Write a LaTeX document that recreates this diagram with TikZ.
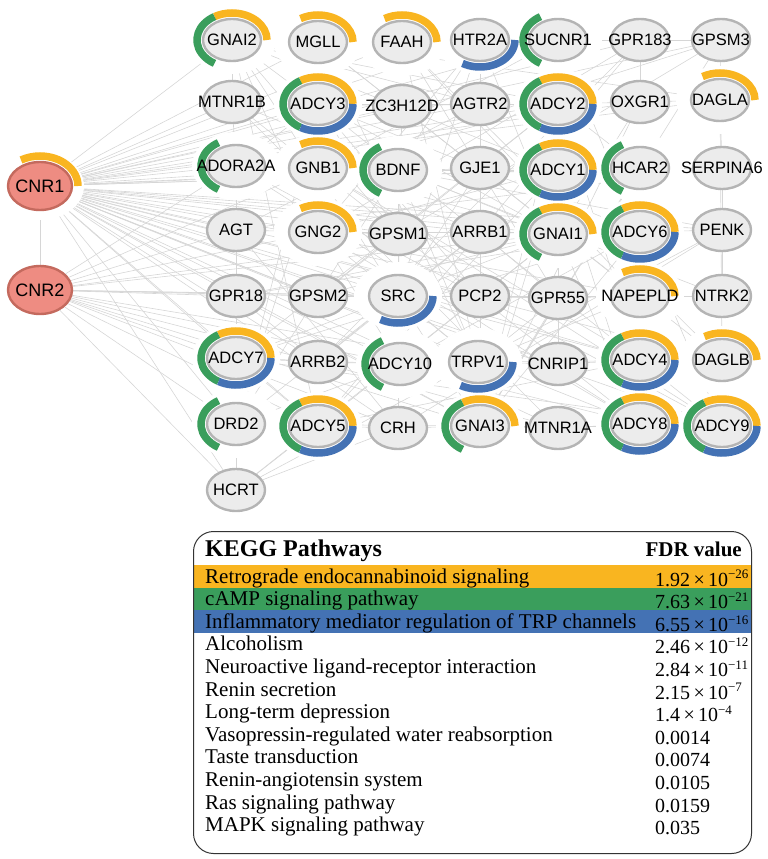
\documentclass[tikz,border=0pt]{standalone}
\usepackage{fontspec}
\setmainfont{Liberation Serif}
\newfontfamily\gsans{Liberation Sans}
\usetikzlibrary{shapes.geometric}
\pgfdeclarelayer{bg}\pgfdeclarelayer{mid}
\pgfsetlayers{bg,mid,main}
\definecolor{ko}{HTML}{F9B520}
\definecolor{kg}{HTML}{3A9E5C}
\definecolor{kb}{HTML}{4472B4}
\definecolor{nf}{HTML}{ECECEC}
\definecolor{nd}{HTML}{B4B4B4}
\definecolor{cf}{HTML}{EE8C82}
\definecolor{cd}{HTML}{C46A5E}
\newcommand\sci[2]{#1\,×\,10{\fontsize{13}{13}\selectfont\raisebox{0.55em}{−#2}}}
\tikzset{
 gene/.style={ellipse,draw=nd,fill=nf,line width=2.4pt,minimum width=58pt,minimum height=42pt,inner sep=0pt,label={[font=\gsans\fontsize{16.5}{16.5}\selectfont,inner sep=0pt]center:#1}},
 cnr/.style={ellipse,draw=cd,fill=cf,line width=2.4pt,minimum width=64pt,minimum height=48pt,inner sep=0pt,label={[font=\gsans\fontsize{18}{18}\selectfont,inner sep=0pt]center:#1}},
 edge/.style={draw=black!16,line width=0.6pt},
 arcw/.style={line width=7.5pt},
 row/.style={anchor=base west,inner sep=0pt,font=\fontsize{21}{21}\selectfont},
 val/.style={anchor=base west,inner sep=0pt,font=\fontsize{20}{20}\selectfont},
}
\begin{document}
\begin{tikzpicture}[x=1pt,y=-1pt]
\useasboundingbox (0,0) rectangle (768,859);
\node[cnr=CNR1] (CNR1) at (40,186) {};
\node[cnr=CNR2] (CNR2) at (40,290) {};
\foreach \n/\x/\y in {GNAI2/232/40,MGLL/318/42,FAAH/402/42,HTR2A/480/40,SUCNR1/558/40,GPR183/640/40,GPSM3/721/40,
 MTNR1B/232/102,ADCY3/318/104,ZC3H12D/402/106,AGTR2/480/104,ADCY2/558/104,OXGR1/640/102,DAGLA/720/100,
 ADORA2A/236/166,GNB1/318/168,BDNF/398/170,GJE1/480/168,ADCY1/558/170,HCAR2/640/168,SERPINA6/722/168,
 AGT/236/230,GNG2/318/232,GPSM1/398/234,ARRB1/480/232,GNAI1/558/234,ADCY6/640/232,PENK/722/230,
 GPR18/236/296,GPSM2/318/296,SRC/398/296,PCP2/480/296,GPR55/558/298,NAPEPLD/640/296,NTRK2/722/296,
 ADCY7/236/358,ARRB2/318/362,ADCY10/400/364,TRPV1/478/362,CNRIP1/558/364,ADCY4/640/360,DAGLB/722/360,
 DRD2/236/424,ADCY5/318/426,CRH/398/428,GNAI3/480/426,MTNR1A/558/428,ADCY8/640/424,ADCY9/722/426,
 HCRT/236/490}
 \node[gene=\n] (\n) at (\x,\y) {};
\begin{pgfonlayer}{bg}
\foreach \a in {GNAI2,MGLL,FAAH,HTR2A,SUCNR1,GPR183,GPSM3,MTNR1B,ADCY3,ZC3H12D,AGTR2,ADCY2,OXGR1,DAGLA,ADORA2A,GNB1,BDNF,GJE1,ADCY1,HCAR2,AGT,GNG2,GPSM1,ARRB1,GNAI1,ADCY6,PENK,GPR18,GPSM2,SRC,PCP2,GPR55,NAPEPLD,ADCY7,ARRB2,ADCY10,TRPV1,CNRIP1,ADCY4,DAGLB,DRD2,ADCY5,CRH,GNAI3,MTNR1A,ADCY8,ADCY9,HCRT,CNR2}
 \draw[edge] (CNR1) -- (\a);
\foreach \a in {ADORA2A,AGT,GPR18,ADCY7,DRD2,GPSM2,SRC,ARRB2,TRPV1,GPR55,GNAI1,ADCY10,CRH,GNAI3,ADCY5,ARRB1,GNB1,GNG2,HCRT}
 \draw[edge] (CNR2) -- (\a);
\foreach \a/\b in {GNAI2/MTNR1B,MTNR1B/ADORA2A,ADORA2A/AGT,AGT/GPR18,GPR18/ADCY7,ADCY7/DRD2,DRD2/HCRT,
 SERPINA6/PENK,PENK/NTRK2,GPSM3/DAGLA,GPR183/OXGR1,DAGLA/SERPINA6,
 GNAI2/MGLL,MGLL/FAAH,FAAH/HTR2A,HTR2A/SUCNR1,SUCNR1/GPR183,GPR183/GPSM3,
 ADCY3/ZC3H12D,ZC3H12D/AGTR2,AGTR2/ADCY2,ADCY2/OXGR1,OXGR1/DAGLA,
 GNB1/BDNF,GJE1/ADCY1,ADCY1/HCAR2,HCAR2/SERPINA6,GNG2/GPSM1,ARRB1/GNAI1,GNAI1/ADCY6,ADCY6/PENK,
 GPSM2/SRC,SRC/PCP2,PCP2/GPR55,GPR55/NAPEPLD,NAPEPLD/NTRK2,
 ADCY7/ARRB2,ARRB2/ADCY10,ADCY10/TRPV1,TRPV1/CNRIP1,CNRIP1/ADCY4,ADCY4/DAGLB,
 DRD2/ADCY5,ADCY5/CRH,CRH/GNAI3,GNAI3/MTNR1A,MTNR1A/ADCY8,ADCY8/ADCY9,
 GNAI2/ADCY3,GNAI2/ADCY2,GNAI2/ADCY1,GNAI2/ADCY5,GNAI2/GNG2,GNAI2/HTR2A,GNAI2/AGTR2,GNAI2/SRC,
 GNAI1/ADCY3,GNAI1/ADCY5,GNAI1/ADCY7,GNAI1/ADCY8,GNAI1/GNB1,GNAI1/MTNR1B,GNAI1/HTR2A,GNAI1/SUCNR1,GNAI1/GPR18,
 GNAI3/ADCY1,GNAI3/ADCY2,GNAI3/ADCY6,GNAI3/ADCY9,GNAI3/MTNR1A,GNAI3/DRD2,GNAI3/GPR55,GNAI3/HCAR2,GNAI3/OXGR1,
 GNB1/ADCY2,GNB1/ADCY4,GNB1/ADCY9,GNB1/DRD2,GNB1/ARRB1,GNB1/GPSM3,GNB1/SUCNR1,GNB1/ADORA2A,
 GNG2/ADCY1,GNG2/ADCY6,GNG2/ADCY8,GNG2/GPR183,GNG2/HTR2A,GNG2/AGT,GNG2/TRPV1,GNG2/ADCY10,
 ADCY3/ADCY2,ADCY3/ADCY6,ADCY3/ADCY9,ADCY3/ADORA2A,ADCY3/DRD2,ADCY3/GPSM1,ADCY3/PCP2,
 ADCY2/ADCY7,ADCY2/ADCY4,ADCY2/HCAR2,ADCY2/GPSM2,ADCY1/ADCY5,ADCY1/ADCY8,ADCY1/BDNF,ADCY1/GNAI1,
 ADCY6/ADCY7,ADCY6/ADCY10,ADCY6/NAPEPLD,ADCY4/ADCY5,ADCY4/DAGLB,ADCY8/ADCY10,ADCY9/ADCY7,
 SRC/TRPV1,SRC/BDNF,SRC/NTRK2,SRC/ARRB1,SRC/ARRB2,SRC/ADCY4,SRC/HTR2A,SRC/GNAI3,
 ARRB1/ARRB2,ARRB1/DRD2,ARRB1/AGTR2,ARRB1/GPR55,ARRB1/HTR2A,ARRB2/GPR18,ARRB2/GPR183,ARRB2/MTNR1A,
 TRPV1/FAAH,TRPV1/MGLL,TRPV1/BDNF,TRPV1/GPR55,TRPV1/NAPEPLD,TRPV1/DAGLB,
 MGLL/DAGLA,MGLL/NAPEPLD,FAAH/NAPEPLD,FAAH/DAGLB,DAGLA/DAGLB,MGLL/DAGLB,FAAH/GPR55,
 GPSM1/GPSM3,GPSM2/GPSM1,GPSM2/GNAI1,GPSM3/GNAI3,GPSM1/GNAI2,
 BDNF/NTRK2,BDNF/CRH,BDNF/PENK,CRH/PENK,CRH/HCRT,HCRT/ADCY5,HCRT/GNAI1,HCRT/PENK,
 AGT/AGTR2,AGT/SERPINA6,AGT/CRH,MTNR1B/MTNR1A,MTNR1B/ADCY8,GJE1/SRC,GJE1/PCP2,ZC3H12D/SRC,
 CNRIP1/GPR55,CNRIP1/ADCY1,PCP2/GNAI1,PCP2/GNAI3,SUCNR1/ADCY9,HCAR2/ADCY4,OXGR1/GNAI1,GPR183/ADCY5,
 ADCY7/ADCY5,ADCY7/ADCY10,DRD2/ADCY10,DRD2/HTR2A,ADORA2A/ADCY8,ADORA2A/DRD2,ADORA2A/ADCY9,GPR18/GNAI3,GPR18/ADCY6}
 \draw[edge] (\a) -- (\b);
\end{pgfonlayer}
\begin{pgfonlayer}{mid}
\foreach \n in {CNR1,GNAI2,MGLL,FAAH,HTR2A,SUCNR1,DAGLA,ADCY3,ADCY2,ADORA2A,GNB1,BDNF,ADCY1,HCAR2,GNG2,GNAI1,ADCY6,SRC,NAPEPLD,ADCY7,ADCY10,TRPV1,ADCY4,DAGLB,DRD2,ADCY5,GNAI3,ADCY8,ADCY9}
 \fill[white] (\n.center) ellipse[x radius=44,y radius=34];
\foreach \n in {GNAI2,MGLL,FAAH,DAGLA,ADCY3,ADCY2,GNB1,ADCY1,GNG2,GNAI1,ADCY6,NAPEPLD,ADCY7,ADCY4,DAGLB,ADCY5,GNAI3,ADCY8,ADCY9}
 \draw[arcw,ko] ([shift={(0:35 and 27)}]\n.center) arc[start angle=0,end angle=-120,x radius=35,y radius=27];
\draw[arcw,ko] ([shift={(0:38 and 30)}]CNR1.center) arc[start angle=0,end angle=-120,x radius=38,y radius=30];
\foreach \n in {GNAI2,SUCNR1,ADCY3,ADCY2,ADORA2A,BDNF,ADCY1,HCAR2,GNAI1,ADCY6,ADCY7,ADCY10,ADCY4,DRD2,ADCY5,GNAI3,ADCY8,ADCY9}
 \draw[arcw,kg] ([shift={(-120:35 and 27)}]\n.center) arc[start angle=-120,end angle=-240,x radius=35,y radius=27];
\foreach \n in {HTR2A,ADCY3,ADCY2,ADCY1,ADCY6,SRC,ADCY7,TRPV1,ADCY4,ADCY5,ADCY8,ADCY9}
 \draw[arcw,kb] ([shift={(-240:35 and 27)}]\n.center) arc[start angle=-240,end angle=-360,x radius=35,y radius=27];
\end{pgfonlayer}
% table
\fill[ko] (194,565) rectangle (751,588);
\fill[kg] (194,588) rectangle (751,610);
\fill[kb] (194,610) rectangle (751,633);
\node[draw=black!80,line width=1pt,rounded corners=20pt,minimum width=558pt,minimum height=322pt,anchor=north west,inner sep=0pt] (box) at (193,531) {};
\node[row,font=\bfseries\fontsize{24}{24}\selectfont] (hd) at (205,556) {KEGG Pathways};
\node[anchor=base east,inner sep=0pt,font=\bfseries\fontsize{21}{21}\selectfont] (fd) at (742,556) {FDR value};
\foreach \t/\v [count=\i from 0] in {Retrograde endocannabinoid signaling/\sci{1.92}{26},cAMP signaling pathway/\sci{7.63}{21},Inflammatory mediator regulation of TRP channels/\sci{6.55}{16},Alcoholism/\sci{2.46}{12},Neuroactive ligand-receptor interaction/\sci{2.84}{11},Renin secretion/\sci{2.15}{7},Long-term depression/\sci{1.4}{4},Vasopressin-regulated water reabsorption/0.0014,Taste transduction/0.0074,Renin-angiotensin system/0.0105,Ras signaling pathway/0.0159,MAPK signaling pathway/0.035}
{\node[row] (t\i) at (205,{583+22.6*\i}) {\t};
 \node[val] (v\i) at (655,{586+22.6*\i}) {\v};}
\end{tikzpicture}
\end{document}
